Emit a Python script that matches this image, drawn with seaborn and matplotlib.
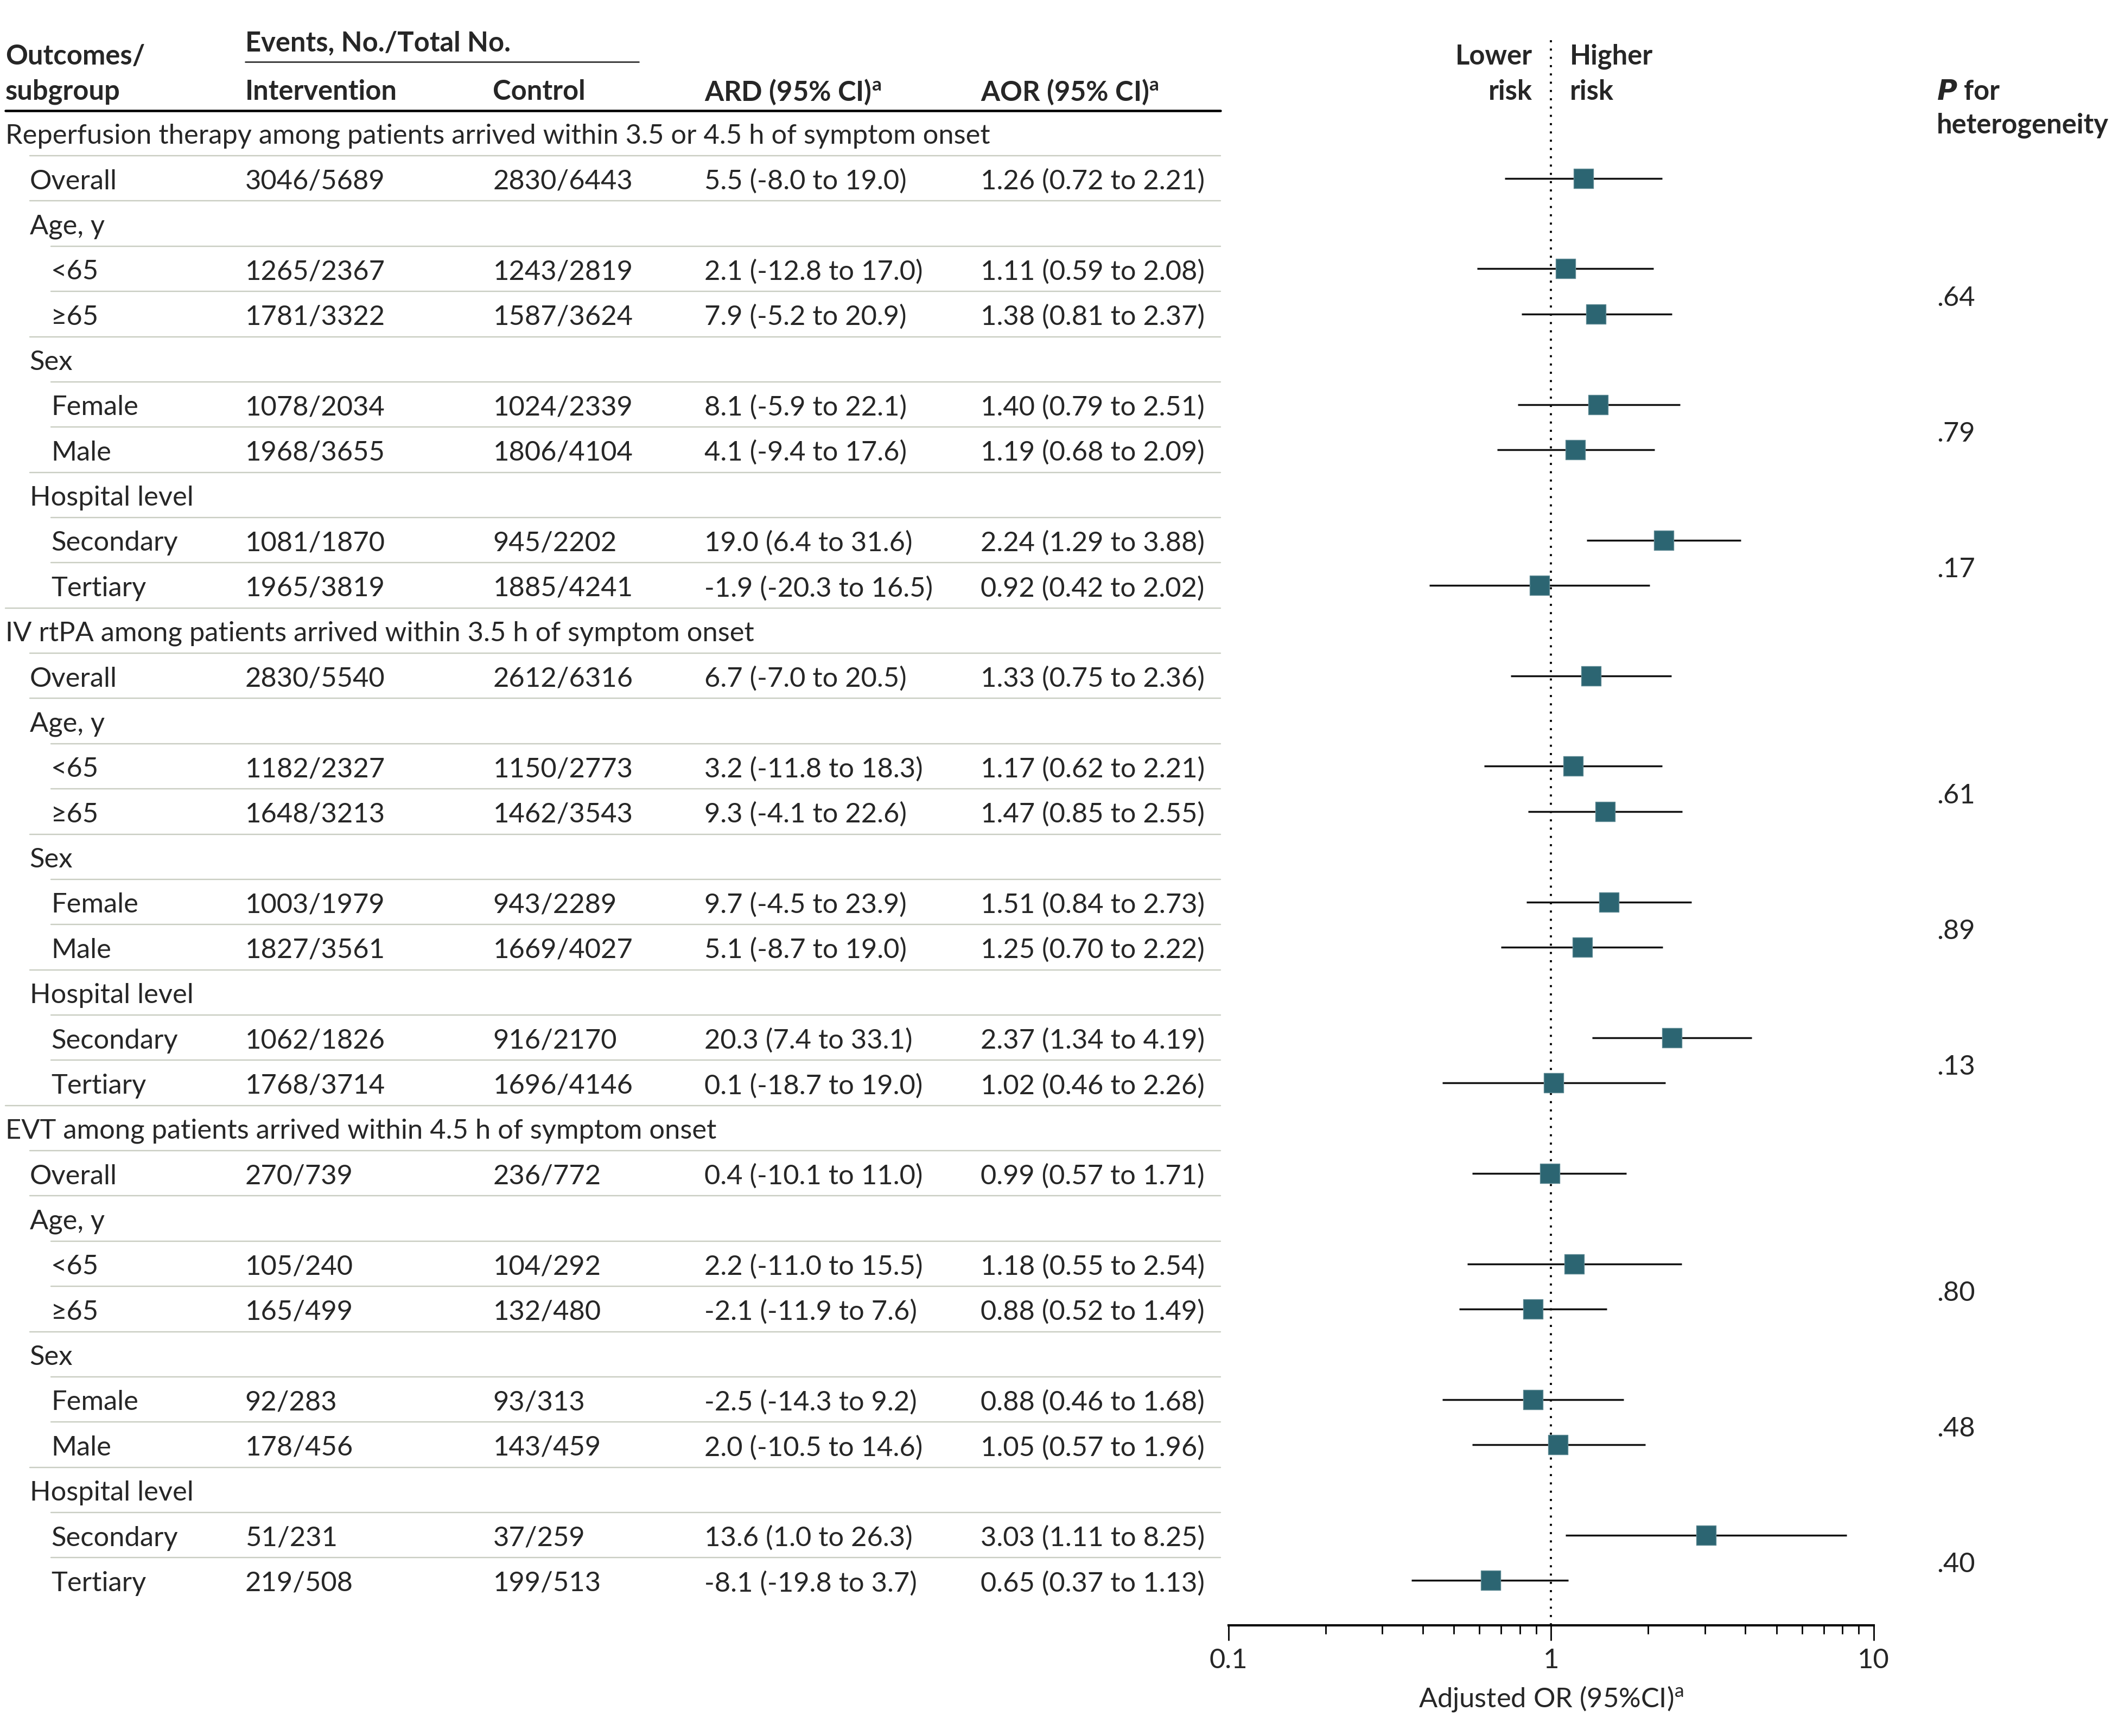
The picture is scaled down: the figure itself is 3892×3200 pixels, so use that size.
import matplotlib.pyplot as plt
import matplotlib.transforms as mtransforms
from matplotlib.lines import Line2D
from matplotlib.ticker import FixedLocator, NullFormatter
import pandas as pd
import seaborn as sns

# Table content
sections = ['Reperfusion therapy among patients arrived within 3.5 or 4.5 h of symptom onset',
            'IV rtPA among patients arrived within 3.5 h of symptom onset',
            'EVT among patients arrived within 4.5 h of symptom onset']
subgroups = ['Overall', 'Age, y', '<65', '≥65', 'Sex', 'Female', 'Male',
             'Hospital level', 'Secondary', 'Tertiary']
sub_levels = [1, 1, 2, 2, 1, 2, 2, 1, 2, 2]
is_data = [True, False, True, True, False, True, True, False, True, True]

# 7 data rows per section: Overall, <65, >=65, Female, Male, Secondary, Tertiary
intervention = [['3046/5689', '1265/2367', '1781/3322', '1078/2034', '1968/3655', '1081/1870', '1965/3819'],
                ['2830/5540', '1182/2327', '1648/3213', '1003/1979', '1827/3561', '1062/1826', '1768/3714'],
                ['270/739', '105/240', '165/499', '92/283', '178/456', '51/231', '219/508']]
control = [['2830/6443', '1243/2819', '1587/3624', '1024/2339', '1806/4104', '945/2202', '1885/4241'],
           ['2612/6316', '1150/2773', '1462/3543', '943/2289', '1669/4027', '916/2170', '1696/4146'],
           ['236/772', '104/292', '132/480', '93/313', '143/459', '37/259', '199/513']]
ard = [[5.5, 2.1, 7.9, 8.1, 4.1, 19.0, -1.9],
       [6.7, 3.2, 9.3, 9.7, 5.1, 20.3, 0.1],
       [0.4, 2.2, -2.1, -2.5, 2.0, 13.6, -8.1]]
ard_lo = [[-8.0, -12.8, -5.2, -5.9, -9.4, 6.4, -20.3],
          [-7.0, -11.8, -4.1, -4.5, -8.7, 7.4, -18.7],
          [-10.1, -11.0, -11.9, -14.3, -10.5, 1.0, -19.8]]
ard_hi = [[19.0, 17.0, 20.9, 22.1, 17.6, 31.6, 16.5],
          [20.5, 18.3, 22.6, 23.9, 19.0, 33.1, 19.0],
          [11.0, 15.5, 7.6, 9.2, 14.6, 26.3, 3.7]]
aor = [[1.26, 1.11, 1.38, 1.40, 1.19, 2.24, 0.92],
       [1.33, 1.17, 1.47, 1.51, 1.25, 2.37, 1.02],
       [0.99, 1.18, 0.88, 0.88, 1.05, 3.03, 0.65]]
aor_lo = [[0.72, 0.59, 0.81, 0.79, 0.68, 1.29, 0.42],
          [0.75, 0.62, 0.85, 0.84, 0.70, 1.34, 0.46],
          [0.57, 0.55, 0.52, 0.46, 0.57, 1.11, 0.37]]
aor_hi = [[2.21, 2.08, 2.37, 2.51, 2.09, 3.88, 2.02],
          [2.36, 2.21, 2.55, 2.73, 2.22, 4.19, 2.26],
          [1.71, 2.54, 1.49, 1.68, 1.96, 8.25, 1.13]]
p_het = [['.64', '.79', '.17'], ['.61', '.89', '.13'], ['.80', '.48', '.40']]

# Build one long table, one line per row of the figure
records = []
for s, title in enumerate(sections):
    base = 11 * s
    records.append(dict(row=base, label=title, level=0, data=False))
    k = 0
    for j, name in enumerate(subgroups):
        rec = dict(row=base + 1 + j, label=name, level=sub_levels[j], data=is_data[j])
        if is_data[j]:
            rec.update(interv=intervention[s][k], ctrl=control[s][k],
                       ard=f'{ard[s][k]:.1f} ({ard_lo[s][k]:.1f} to {ard_hi[s][k]:.1f})',
                       aor_txt=f'{aor[s][k]:.2f} ({aor_lo[s][k]:.2f} to {aor_hi[s][k]:.2f})',
                       aor=aor[s][k], lo=aor_lo[s][k], hi=aor_hi[s][k])
            k += 1
        records.append(rec)
df = pd.DataFrame(records)
df_data = df[df['data']].copy()

sns.set_theme(style='white')
plt.rcParams['font.family'] = ['Lato', 'DejaVu Sans']
plt.rcParams['mathtext.fontset'] = 'custom'
plt.rcParams['mathtext.rm'] = 'Lato'
plt.rcParams['mathtext.it'] = 'Lato:italic'
plt.rcParams['mathtext.bf'] = 'Lato:bold'

FS = 14.6
DY = 0.07  # nudge text down a little so it sits centred on the row
W, H = 1568, 1289  # layout grid in reference pixels
fig = plt.figure(figsize=(15.568, 12.8), dpi=250)
ax = fig.add_axes([912 / W, 1 - 1207 / H, 479 / W, (1207 - 30) / H])

marker_color = '#2c6572'
ax.hlines(df_data['row'], df_data['lo'], df_data['hi'], color='#111111', lw=1.0, zorder=2)
sns.scatterplot(data=df_data, x='aor', y='row', marker='s', s=105, color=marker_color,
                edgecolor='#5f8a94', linewidth=0.4, zorder=3, legend=False, ax=ax)
ax.axvline(1, color='black', ls=(0, (1, 3)), lw=1.1, zorder=1)

ax.set_xscale('log')
ax.set_xlim(0.1, 10)
ax.set_ylim(33, -2.05)
for side in ['left', 'top', 'right']:
    ax.spines[side].set_visible(False)
ax.spines['bottom'].set_linewidth(1.2)
ax.spines['bottom'].set_color('black')
ax.set_yticks([])
ax.set_ylabel('')
ax.xaxis.set_major_locator(FixedLocator([0.1, 1, 10]))
ax.set_xticklabels(['0.1', '1', '10'])
ax.xaxis.set_minor_locator(FixedLocator([v * d for d in (0.1, 1) for v in range(2, 10)]))
ax.xaxis.set_minor_formatter(NullFormatter())
ax.tick_params(axis='x', which='major', direction='out', length=8, width=0.8,
               color='black', labelsize=FS, pad=4, bottom=True)
ax.tick_params(axis='x', which='minor', direction='out', length=4.6, width=0.8,
               color='black', bottom=True)
ax.set_xlabel('Adjusted OR (95%CI)$^{\\mathrm{a}}$', fontsize=FS, labelpad=6)

trans = mtransforms.blended_transform_factory(fig.transFigure, ax.transData)
indent = {0: 4 / W, 1: 22 / W, 2: 38 / W}
col_x = [182 / W, 366 / W, 523 / W, 728 / W]
table_right = 906 / W

# Header
hdr = dict(transform=trans, fontsize=FS, fontweight='bold', va='center')
fig.text(4 / W, -1.76 + DY, 'Outcomes/', **hdr)
fig.text(4 / W, -0.98 + DY, 'subgroup', **hdr)
fig.text(col_x[0], -2.05 + DY, 'Events, No./Total No.', **hdr)
fig.text(col_x[0], -0.98 + DY, 'Intervention', **hdr)
fig.text(col_x[1], -0.98 + DY, 'Control', **hdr)
fig.text(col_x[2], -0.98 + DY, 'ARD (95% CI)$^{\\mathbf{a}}$', **hdr)
fig.text(col_x[3], -0.98 + DY, 'AOR (95% CI)$^{\\mathbf{a}}$', **hdr)
fig.text(1438 / W, -0.98 + DY, '$\\mathbfit{P}$ for', **hdr)
fig.text(1438 / W, -0.24 + DY, 'heterogeneity', **hdr)
for txt, y in [('Lower', -1.76), ('risk', -0.98)]:
    ax.annotate(txt, xy=(1, y + DY), xytext=(-10, 0), textcoords='offset points',
                ha='right', va='center', fontsize=FS, fontweight='bold')
for txt, y in [('Higher', -1.76), ('risk', -0.98)]:
    ax.annotate(txt, xy=(1, y + DY), xytext=(10, 0), textcoords='offset points',
                ha='left', va='center', fontsize=FS, fontweight='bold')

fig.add_artist(Line2D([col_x[0], 474 / W], [-1.58, -1.58], transform=trans, color='#333333', lw=0.8))
fig.add_artist(Line2D([4 / W, table_right], [-0.5, -0.5], transform=trans, color='black', lw=1.3))

# Table body
body = dict(transform=trans, fontsize=FS, va='center')
for _, r in df.iterrows():
    y = r['row'] + DY
    fig.text(indent[r['level']], y, r['label'], **body)
    if r['data']:
        fig.text(col_x[0], y, r['interv'], **body)
        fig.text(col_x[1], y, r['ctrl'], **body)
        fig.text(col_x[2], y, r['ard'], **body)
        fig.text(col_x[3], y, r['aor_txt'], **body)

# Row separators start at the indent of the following row
levels = df['level'].tolist()
for i in range(len(levels) - 1):
    fig.add_artist(Line2D([indent[levels[i + 1]], table_right], [i + 0.5, i + 0.5],
                          transform=trans, color='#c9cdc2', lw=0.7))

# P for heterogeneity, placed between the two rows of each subgroup
for s in range(3):
    for m, off in enumerate([3.5, 6.5, 9.5]):
        fig.text(1438 / W, 11 * s + off + DY + 0.08, p_het[s][m], **body)

fig.savefig('out.png', dpi=250)
